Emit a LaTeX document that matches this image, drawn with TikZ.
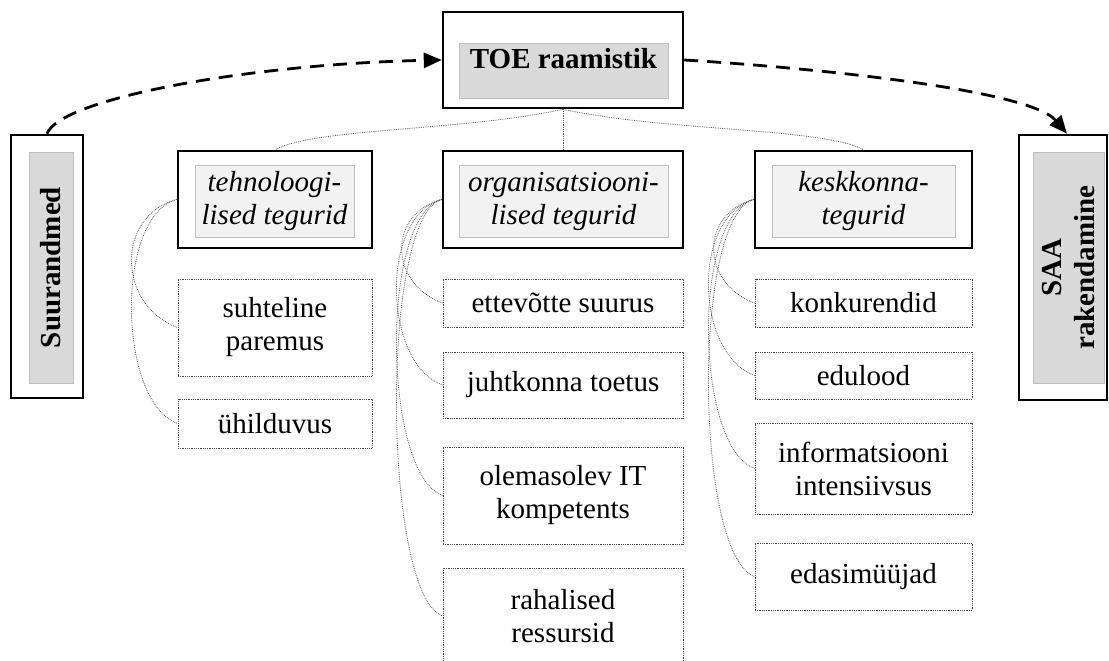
\documentclass[tikz,border=0pt]{standalone}
\usepackage{fontspec}
\setmainfont{Liberation Serif}
\usetikzlibrary{arrows.meta}

\begin{document}
\begin{tikzpicture}[
    x=1pt, y=1pt,
    font=\fontsize{29}{33}\selectfont,
    frame/.style={draw, line width=2.5pt, inner sep=0pt},
    headfill/.style={draw=black!25, fill=black!15, inner sep=0pt, font=\fontsize{29}{33}\selectfont\bfseries, align=center},
    factfill/.style={draw=black!25, fill=black!5, inner sep=0pt, font=\fontsize{29}{33}\selectfont\itshape, align=center},
    item/.style={draw=black!75, densely dotted, line width=0.8pt, inner sep=0pt, align=center},
    flow/.style={-{Triangle[length=18pt, width=15pt]}, line width=2.8pt, dash pattern=on 14pt off 9pt},
    link/.style={draw=black!65, densely dotted, line width=0.8pt},
    twig/.style={link, out=195, in=160, looseness=1.4, max distance=64pt},
]
    \clip (0,0) rectangle (1109,-661);

    % top and side boxes
    \node[frame, minimum width=240pt, minimum height=96pt] (toe) at (563,-60) {};
    \node[headfill, anchor=north, minimum width=209pt, text height=25pt, text depth=30pt] (toein) at (563.5,-43) {TOE raamistik};

    \node[frame, minimum width=72pt, minimum height=263pt] (sur) at (47,-266.5) {};
    \node[headfill, rotate=90, minimum width=231pt, minimum height=44pt] (surin) at (51,-267.5) {Suurandmed};

    \node[frame, minimum width=88pt, minimum height=265pt] (saa) at (1063,-267.5) {};
    \node[headfill, rotate=90, minimum width=231pt, minimum height=71pt] (saain) at (1068.5,-267.5) {SAA\\rakendamine};

    % factor groups
    \node[frame, minimum width=194pt, minimum height=97pt] (teh) at (275,-199.5) {};
    \node[factfill, minimum width=159pt, minimum height=72pt] (tehin) at (274.5,-201) {tehnoloogi-\\lised tegurid};
    \node[frame, minimum width=240pt, minimum height=97pt] (org) at (563,-199.5) {};
    \node[factfill, minimum width=209pt, minimum height=72pt] (orgin) at (563.5,-201) {organisatsiooni-\\lised tegurid};
    \node[frame, minimum width=217pt, minimum height=97pt] (kesk) at (863.5,-199.5) {};
    \node[factfill, minimum width=183pt, minimum height=72pt] (keskin) at (863.5,-201) {keskkonna-\\tegurid};

    % technology
    \node[item, minimum width=194pt, minimum height=97pt] (suh) at (275,-327.5) {suhteline\\paremus};
    \node[item, minimum width=194pt, minimum height=49pt] (yhi) at (275,-423.5) {ühilduvus};

    % organisation
    \node[item, minimum width=240pt, minimum height=48pt] (ett) at (563,-303) {ettevõtte suurus};
    \node[item, minimum width=240pt, minimum height=66pt] (juh) at (563,-385) {juhtkonna toetus};
    \node[item, minimum width=240pt, minimum height=97pt] (ole) at (563,-495.5) {olemasolev IT\\kompetents};
    \node[item, minimum width=240pt, minimum height=96pt] (rah) at (563,-616) {rahalised\\ressursid};

    % environment
    \node[item, minimum width=217pt, minimum height=48pt] (kon) at (863.5,-303) {konkurendid};
    \node[item, minimum width=217pt, minimum height=47pt] (edu) at (863.5,-375.5) {edulood};
    \node[item, minimum width=217pt, minimum height=91pt] (inf) at (863.5,-468.5) {informatsiooni\\intensiivsus};
    \node[item, minimum width=217pt, minimum height=67pt] (eda) at (863.5,-576.5) {edasimüüjad};

    % hierarchy links
    \draw[link] (toe.south) .. controls +(-100,-22) and +(40,22) .. (teh.north);
    \draw[link] (toe.south) -- (org.north);
    \draw[link] (toe.south) .. controls +(100,-22) and +(-40,22) .. (kesk.north);

    \foreach \t in {suh,yhi}
        \draw[twig] (teh.west) to (\t.west);
    \foreach \t in {ett,juh,ole,rah}
        \draw[twig] (org.west) to (\t.west);
    \foreach \t in {kon,edu,inf,eda}
        \draw[twig] (kesk.west) to (\t.west);

    % dashed flow
    \draw[flow] (sur.north) .. controls +(13,35) and +(-193,-4) .. (toe.west);
    \draw[flow] (toe.east) .. controls +(117,-7) and +(-38,45) .. ([xshift=4pt]saa.north);

\end{tikzpicture}
\end{document}
